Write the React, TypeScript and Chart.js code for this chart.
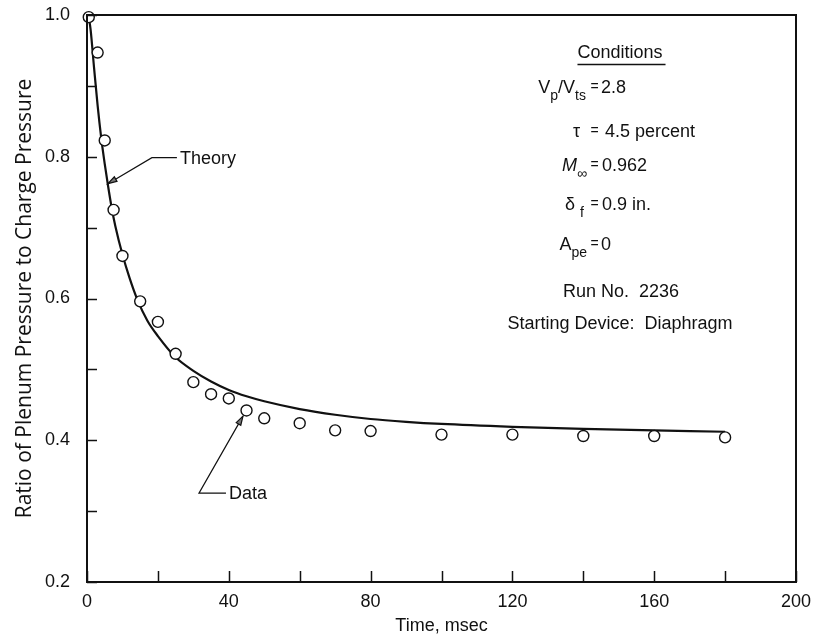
import React, { useEffect, useRef } from "react";
import { Chart, registerables } from "chart.js";

Chart.register(...registerables);

// ---- data ----
const dataTime = [0.5, 3, 5, 7.5, 10, 15, 20, 25, 30, 35, 40, 45, 50, 60, 70, 80, 100, 120, 140, 160, 180];
const dataRatio = [0.997, 0.947, 0.823, 0.725, 0.66, 0.596, 0.567, 0.522, 0.482, 0.465, 0.459, 0.442, 0.431, 0.424, 0.414, 0.413, 0.408, 0.408, 0.406, 0.406, 0.404];

const theoryTime = [0.4, 1, 2, 3, 4, 5, 6, 7, 8, 10, 12, 14, 17, 20, 25, 30, 35, 40, 45, 50, 60, 70, 80, 90, 100, 120, 140, 160, 180];
const theoryRatio = [1.0, 0.98, 0.925, 0.872, 0.827, 0.79, 0.757, 0.727, 0.702, 0.662, 0.629, 0.601, 0.569, 0.547, 0.517, 0.498, 0.483, 0.471, 0.462, 0.455, 0.444, 0.436, 0.43, 0.426, 0.423, 0.419, 0.416, 0.414, 0.412];

const xTickStep = 20;
const xLabelEvery = 40;
const yTickStep = 0.1;

const xTitle = "Time, msec";
const yTitle = "Ratio of Plenum Pressure to Charge Pressure";

// annotation anchors (data coordinates)
const theoryArrowTip = { x: 5.9, y: 0.762 };
const dataArrowTip = { x: 44, y: 0.434 };

const FONT = '"Liberation Sans", Arial, sans-serif';

const framePlugin = {
  id: "frameAndNotes",
  afterDraw(chart: any) {
    const { ctx, chartArea: a, scales } = chart;
    const xs = scales.x;
    const ys = scales.y;
    ctx.save();
    ctx.strokeStyle = "#111";
    ctx.fillStyle = "#111";

    // frame
    ctx.lineWidth = 2;
    ctx.strokeRect(a.left, a.top, a.right - a.left, a.bottom - a.top);

    // inward ticks
    ctx.lineWidth = 1.5;
    ctx.beginPath();
    ys.ticks.forEach((t: any) => {
      const py = Math.round(ys.getPixelForValue(t.value)) + 0.5;
      ctx.moveTo(a.left, py);
      ctx.lineTo(a.left + 10, py);
    });
    xs.ticks.forEach((t: any) => {
      const px = Math.round(xs.getPixelForValue(t.value)) + 0.5;
      ctx.moveTo(px, a.bottom);
      ctx.lineTo(px, a.bottom - 11);
    });
    ctx.stroke();

    // leader with arrow
    const leader = (tip: { x: number; y: number }, dx: number, dy: number, hLen: number, label: string) => {
      const tx = xs.getPixelForValue(tip.x);
      const ty = ys.getPixelForValue(tip.y);
      const ex = tx + dx;
      const ey = ty + dy;
      ctx.lineWidth = 1.2;
      ctx.beginPath();
      ctx.moveTo(tx, ty);
      ctx.lineTo(ex, ey);
      ctx.lineTo(ex + hLen, ey);
      ctx.stroke();
      const ang = Math.atan2(ty - ey, tx - ex);
      const L = 9, W = 2.6;
      const bx = tx - L * Math.cos(ang);
      const by = ty - L * Math.sin(ang);
      ctx.beginPath();
      ctx.moveTo(tx, ty);
      ctx.lineTo(bx + W * Math.sin(ang), by - W * Math.cos(ang));
      ctx.lineTo(bx - W * Math.sin(ang), by + W * Math.cos(ang));
      ctx.closePath();
      ctx.fillStyle = "#777";
      ctx.fill();
      ctx.stroke();
      ctx.fillStyle = "#111";
      ctx.font = `18px ${FONT}`;
      ctx.textAlign = "left";
      ctx.textBaseline = "middle";
      ctx.fillText(label, ex + hLen + 3, ey + 1);
    };
    leader(theoryArrowTip, 44, -26, 25, "Theory");
    leader(dataArrowTip, -44, 77, 27, "Data");

    // conditions block
    const main = `18px ${FONT}`;
    const sub = `14px ${FONT}`;
    ctx.textBaseline = "middle";
    const centered = (text: string, cx: number, cy: number) => {
      ctx.font = main;
      ctx.textAlign = "center";
      ctx.fillText(text, cx, cy);
    };
    centered("Conditions", 620, 53);
    ctx.font = main;
    const cw = ctx.measureText("Conditions").width;
    ctx.lineWidth = 1.3;
    ctx.beginPath();
    ctx.moveTo(620 - cw / 2, 64.5);
    ctx.lineTo(620 + cw / 2 + 3, 64.5);
    ctx.stroke();

    type Part = { t: string; sub?: boolean; it?: boolean };
    const row = (parts: Part[], rightX: number, cy: number, value: string, valueX = 601) => {
      ctx.textAlign = "left";
      const fontOf = (p: Part) => (p.sub ? sub : (p.it ? "italic " : "") + main);
      let w = 0;
      parts.forEach((p) => {
        ctx.font = fontOf(p);
        w += ctx.measureText(p.t).width;
      });
      let x = rightX - w;
      parts.forEach((p) => {
        ctx.font = fontOf(p);
        ctx.fillText(p.t, x, p.sub ? cy + 8 : cy);
        x += ctx.measureText(p.t).width;
      });
      ctx.font = `14px ${FONT}`;
      ctx.textAlign = "center";
      ctx.fillText("=", 594.5, cy - 1);
      ctx.font = main;
      ctx.textAlign = "left";
      ctx.fillText(value, valueX, cy);
    };
    row([{ t: "V" }, { t: "p", sub: true }, { t: "/V" }, { t: "ts", sub: true }], 586, 88, "2.8", 601);
    row([{ t: "τ" }], 580, 132, "4.5 percent", 605);
    row([{ t: "M", it: true }, { t: "∞", sub: true }], 587, 166, "0.962", 602);
    row([{ t: "δ " }, { t: "f", sub: true }], 584, 205, "0.9 in.", 602);
    row([{ t: "A" }, { t: "pe", sub: true }], 587, 245, "0", 601);
    centered("Run No.  2236", 621, 292);
    centered("Starting Device:  Diaphragm", 620, 324);

    ctx.restore();
  },
};

export default function App() {
  const ref = useRef<HTMLCanvasElement | null>(null);
  useEffect(() => {
    document.body.style.margin = "0";
    const canvas = ref.current;
    if (!canvas) return;
    const chart = new Chart(canvas, {
      type: "line",
      data: {
        datasets: [
          {
            label: "Data",
            data: dataTime.map((t, i) => ({ x: t, y: dataRatio[i] })),
            showLine: false,
            pointStyle: "circle",
            pointRadius: 5.5,
            pointBackgroundColor: "#fff",
            pointBorderColor: "#111",
            pointBorderWidth: 1.4,
            clip: false,
            order: 0,
          },
          {
            label: "Theory",
            data: theoryTime.map((t, i) => ({ x: t, y: theoryRatio[i] })),
            borderColor: "#111",
            borderWidth: 2.2,
            pointRadius: 0,
            cubicInterpolationMode: "monotone",
            fill: false,
            order: 1,
          },
        ],
      },
      options: {
        animation: false,
        responsive: false,
        maintainAspectRatio: false,
        layout: { padding: { left: 0, right: 17, top: 15, bottom: 0 } },
        plugins: { legend: { display: false }, tooltip: { enabled: false } },
        scales: {
          x: {
            type: "linear",
            min: 0,
            max: 200,
            afterFit(s: any) {
              s.height = 57;
              s.paddingLeft = 0;
              s.paddingRight = 0;
            },
            grid: { display: false, drawTicks: false },
            border: { display: false },
            ticks: {
              stepSize: xTickStep,
              autoSkip: false,
              maxRotation: 0,
              padding: 9,
              color: "#111",
              font: { family: FONT, size: 18 },
              callback: (v: any) => (Math.round(v) % xLabelEvery === 0 ? String(v) : ""),
            },
            title: {
              display: true,
              text: xTitle,
              color: "#111",
              font: { family: FONT, size: 18 },
              padding: { top: 0, bottom: 2 },
            },
          },
          y: {
            min: 0.2,
            max: 1.0,
            afterFit(s: any) {
              s.width = 87;
              s.paddingTop = 0;
              s.paddingBottom = 0;
            },
            grid: { display: false, drawTicks: false },
            border: { display: false },
            ticks: {
              stepSize: yTickStep,
              autoSkip: false,
              padding: 17,
              color: "#111",
              font: { family: FONT, size: 18 },
              callback: (v: any) => {
                const k = Math.round(Number(v) * 10);
                return k % 2 === 0 ? (k / 10).toFixed(1) : "";
              },
            },
            title: {
              display: true,
              text: yTitle,
              color: "#111",
              font: { family: '"Open Sans", sans-serif', size: 21 },
              padding: { top: 12, bottom: 0 },
            },
          },
        },
      },
      plugins: [framePlugin],
    } as any);
    return () => chart.destroy();
  }, []);
  return <canvas ref={ref} width={813} height={639} style={{ display: "block", width: 813, height: 639 }} />;
}
